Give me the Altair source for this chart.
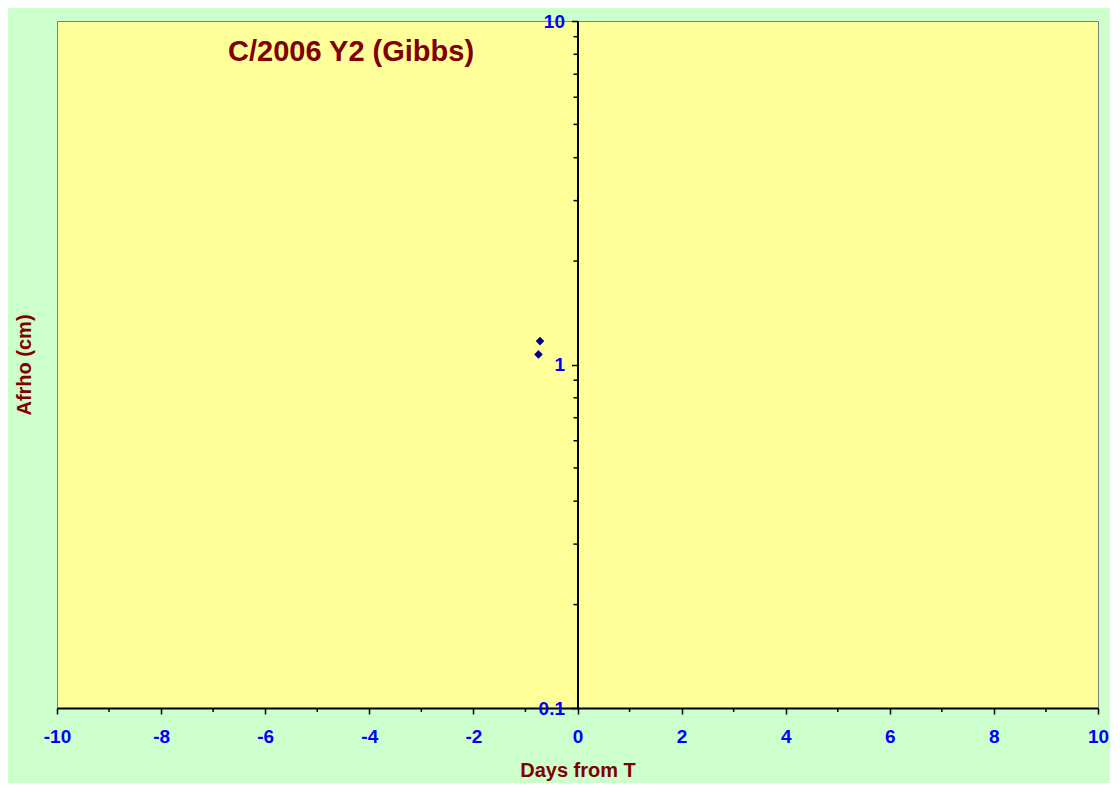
import altair as alt
import pandas as pd

# Data
days = [-0.72, -0.75]
afrho = [1.17, 1.07]

x_major = [-10, -8, -6, -4, -2, 0, 2, 4, 6, 8, 10]
x_minor = [-9, -7, -5, -3, -1, 1, 3, 5, 7, 9]
y_major = [0.1, 1, 10]
y_minor = [0.2, 0.3, 0.4, 0.5, 0.6, 0.7, 0.8, 0.9, 2, 3, 4, 5, 6, 7, 8, 9]

title_text = "C/2006 Y2 (Gibbs)"
x_title = "Days from T"
y_title = "Afrho (cm)"

FONT = "Liberation Sans"
W, H = 1041, 687

df = pd.DataFrame({"days": days, "afrho": afrho})

xscale = alt.Scale(domain=[-10, 10], nice=False, zero=False)
yscale = alt.Scale(type="log", domain=[0.1, 10], nice=False)

xaxis = alt.Axis(
    values=x_major, labelExpr="'' + datum.value", grid=False,
    tickSize=6, tickColor="black", domainColor="black", tickWidth=1.5, domainWidth=2,
    labelFont=FONT, labelFontSize=19, labelFontWeight="bold", labelColor="#0000FF",
    labelPadding=13, labelFlush=False,
    title=x_title, titleFont=FONT, titleFontSize=20, titleFontWeight="bold",
    titleColor="#800000", titleY=68, titleBaseline="alphabetic",
)
yaxis = alt.Axis(
    values=y_major, labelExpr="'' + datum.value", grid=False, orient="left",
    offset=-W / 2,
    tickSize=6, tickColor="black", domainColor="black", tickWidth=1.5, domainWidth=2,
    labelFont=FONT, labelFontSize=19, labelFontWeight="bold", labelColor="#0000FF",
    labelPadding=7, labelFlush=False, labelBaseline="middle", labelAlign="right",
    title=y_title, titleFont=FONT, titleFontSize=20, titleFontWeight="bold",
    titleColor="#800000", titleX=-547, titleY=H / 2, titleAngle=270,
    titleBaseline="alphabetic", titleAlign="center",
)

points = alt.Chart(df).mark_point(
    shape="diamond", filled=True, size=74, color="#000080", opacity=1
).encode(
    x=alt.X("days:Q", scale=xscale, axis=xaxis),
    y=alt.Y("afrho:Q", scale=yscale, axis=yaxis),
)

minor_y = alt.Chart(pd.DataFrame({"v": y_minor})).mark_rule(
    color="black", strokeWidth=1.5, xOffset=-4
).encode(
    x=alt.datum(0),
    x2=alt.datum(0),
    y=alt.Y("v:Q", title=y_title),
)

minor_x = alt.Chart(pd.DataFrame({"v": x_minor})).mark_rule(
    color="black", strokeWidth=1.5, y2Offset=4
).encode(
    x=alt.X("v:Q", title=x_title),
    y=alt.datum(0.1),
    y2=alt.datum(0.1),
)

chart = alt.layer(minor_y, minor_x, points).properties(
    width=W,
    height=H,
    padding={"left": 49, "top": 13, "right": 12, "bottom": 75},
    autosize=alt.AutoSizeParams(type="none"),
    background="#CCFFCC",
    title=alt.TitleParams(
        text=title_text, anchor="start", frame="group", orient="top",
        offset=0, dx=171, dy=78, baseline="alphabetic",
        font=FONT, fontSize=29, fontWeight="bold", color="#800000",
    ),
).configure_view(
    fill="#FFFF99", stroke="#808080", strokeWidth=1
)

chart.save("out.html", embed_options={"renderer": "svg", "actions": False})
